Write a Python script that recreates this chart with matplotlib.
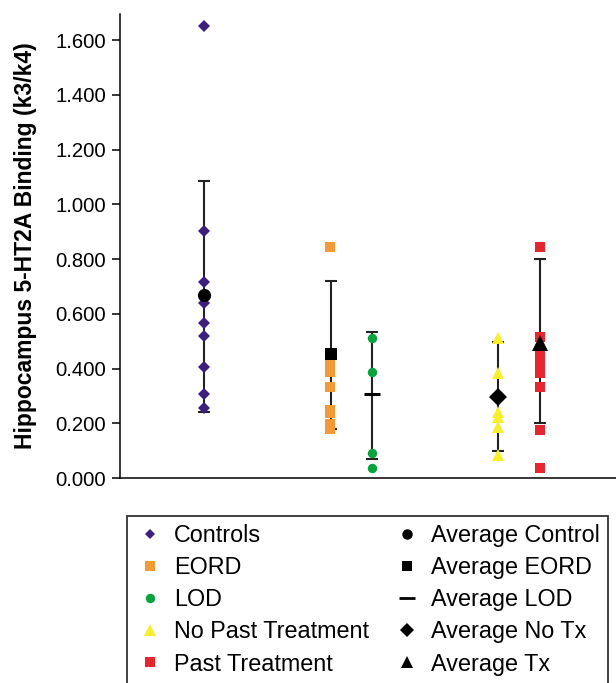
import matplotlib
matplotlib.use("Agg")
import matplotlib.pyplot as plt
from matplotlib.lines import Line2D

plt.rcParams['font.family'] = ['Liberation Sans', 'DejaVu Sans']

# individual binding values (k3/k4) per group
controls = [1.650, 0.902, 0.717, 0.640, 0.567, 0.519, 0.405, 0.308, 0.255]
eord = [0.843, 0.415, 0.386, 0.334, 0.248, 0.237, 0.197, 0.178]
lod = [0.511, 0.386, 0.090, 0.035]
no_past_tx = [0.510, 0.382, 0.242, 0.224, 0.187, 0.084]
past_tx = [0.845, 0.516, 0.449, 0.416, 0.385, 0.334, 0.175, 0.035]

# group averages and error bar ends
averages = [0.668, 0.452, 0.306, 0.297, 0.494]
err_low = [0.242, 0.178, 0.071, 0.099, 0.202]
err_high = [1.086, 0.718, 0.534, 0.497, 0.799]

group_names = ["Controls", "EORD", "LOD", "No Past Treatment", "Past Treatment"]
avg_names = ["Average Control", "Average EORD", "Average LOD",
             "Average No Tx", "Average Tx"]
yticks = [0.0, 0.2, 0.4, 0.6, 0.8, 1.0, 1.2, 1.4, 1.6]

groups = [controls, eord, lod, no_past_tx, past_tx]
group_x = [1.0, 2.5, 3.0, 4.5, 5.0]
bar_x = [1.0, 2.51, 3.0, 4.5, 5.0]
colors = ["#3f1f7e", "#f29a38", "#0aa23e", "#f7ef2e", "#e3262f"]
markers = ["D", "s", "o", "^", "s"]
msizes = [6.5, 6.5, 6.8, 9, 7]
avg_markers = ["o", "s", "_", "D", "^"]
avg_sizes = [9.5, 9, 12, 9, 11.5]
leg_sizes = [5.5, 6.5, 6.8, 8, 6.5]
leg_avg_sizes = [7.5, 7.5, 11, 7, 9]

fig = plt.figure(figsize=(6.16, 6.83), dpi=100)
ax = fig.add_axes([120 / 616, 1 - 478 / 683, 1 - 120 / 616, 464 / 683])

for i in range(len(groups)):
    lo = averages[i] - err_low[i]
    hi = err_high[i] - averages[i]
    ax.errorbar([bar_x[i]], [averages[i]], yerr=[[lo], [hi]], fmt="none",
                ecolor="#222222", elinewidth=1.5, capsize=4.3, capthick=1.5,
                zorder=1)
    ax.plot([group_x[i]] * len(groups[i]), groups[i], linestyle="none",
            marker=markers[i], ms=msizes[i], color=colors[i],
            markeredgewidth=0, zorder=2)
    ax.plot([bar_x[i]], [averages[i]], linestyle="none", marker=avg_markers[i],
            ms=avg_sizes[i], color="black",
            markeredgewidth=2.2 if avg_markers[i] == "_" else 0, zorder=3)

ax.set_xlim(0, 5.905)
ax.set_ylim(0, 1.695)
ax.set_yticks(yticks)
ax.set_yticklabels([f"{v:.3f}" for v in yticks], fontsize=14.6)
ax.set_xticks([])
ax.tick_params(axis="y", direction="out", length=6, width=1.1, pad=4)
ax.spines["top"].set_visible(False)
ax.spines["right"].set_visible(False)
ax.spines["left"].set_linewidth(1.1)
ax.spines["bottom"].set_linewidth(1.1)
ax.set_ylabel("Hippocampus 5-HT2A Binding (k3/k4)", fontsize=16.5,
              fontweight="bold")
ax.yaxis.set_label_coords(-0.168, 0.5)

handles = []
for i in range(len(groups)):
    handles.append(Line2D([], [], linestyle="none", marker=markers[i],
                          ms=leg_sizes[i], color=colors[i],
                          markeredgewidth=0, label=group_names[i]))
for i in range(len(avg_names)):
    handles.append(Line2D([], [], linestyle="none", marker=avg_markers[i],
                          ms=leg_avg_sizes[i], color="black",
                          markeredgewidth=2 if avg_markers[i] == "_" else 0,
                          label=avg_names[i]))

leg = fig.legend(handles=handles, loc="upper left", ncol=2,
                 bbox_to_anchor=(127 / 616, 1 - 516 / 683),
                 fontsize=16.8, frameon=True, fancybox=False,
                 borderpad=0.35, labelspacing=0.39, handlelength=1.26,
                 handletextpad=0.4, columnspacing=1.0, borderaxespad=0)
leg.get_frame().set_edgecolor("black")
leg.get_frame().set_linewidth(1.3)

fig.savefig("out.png", dpi=100)
